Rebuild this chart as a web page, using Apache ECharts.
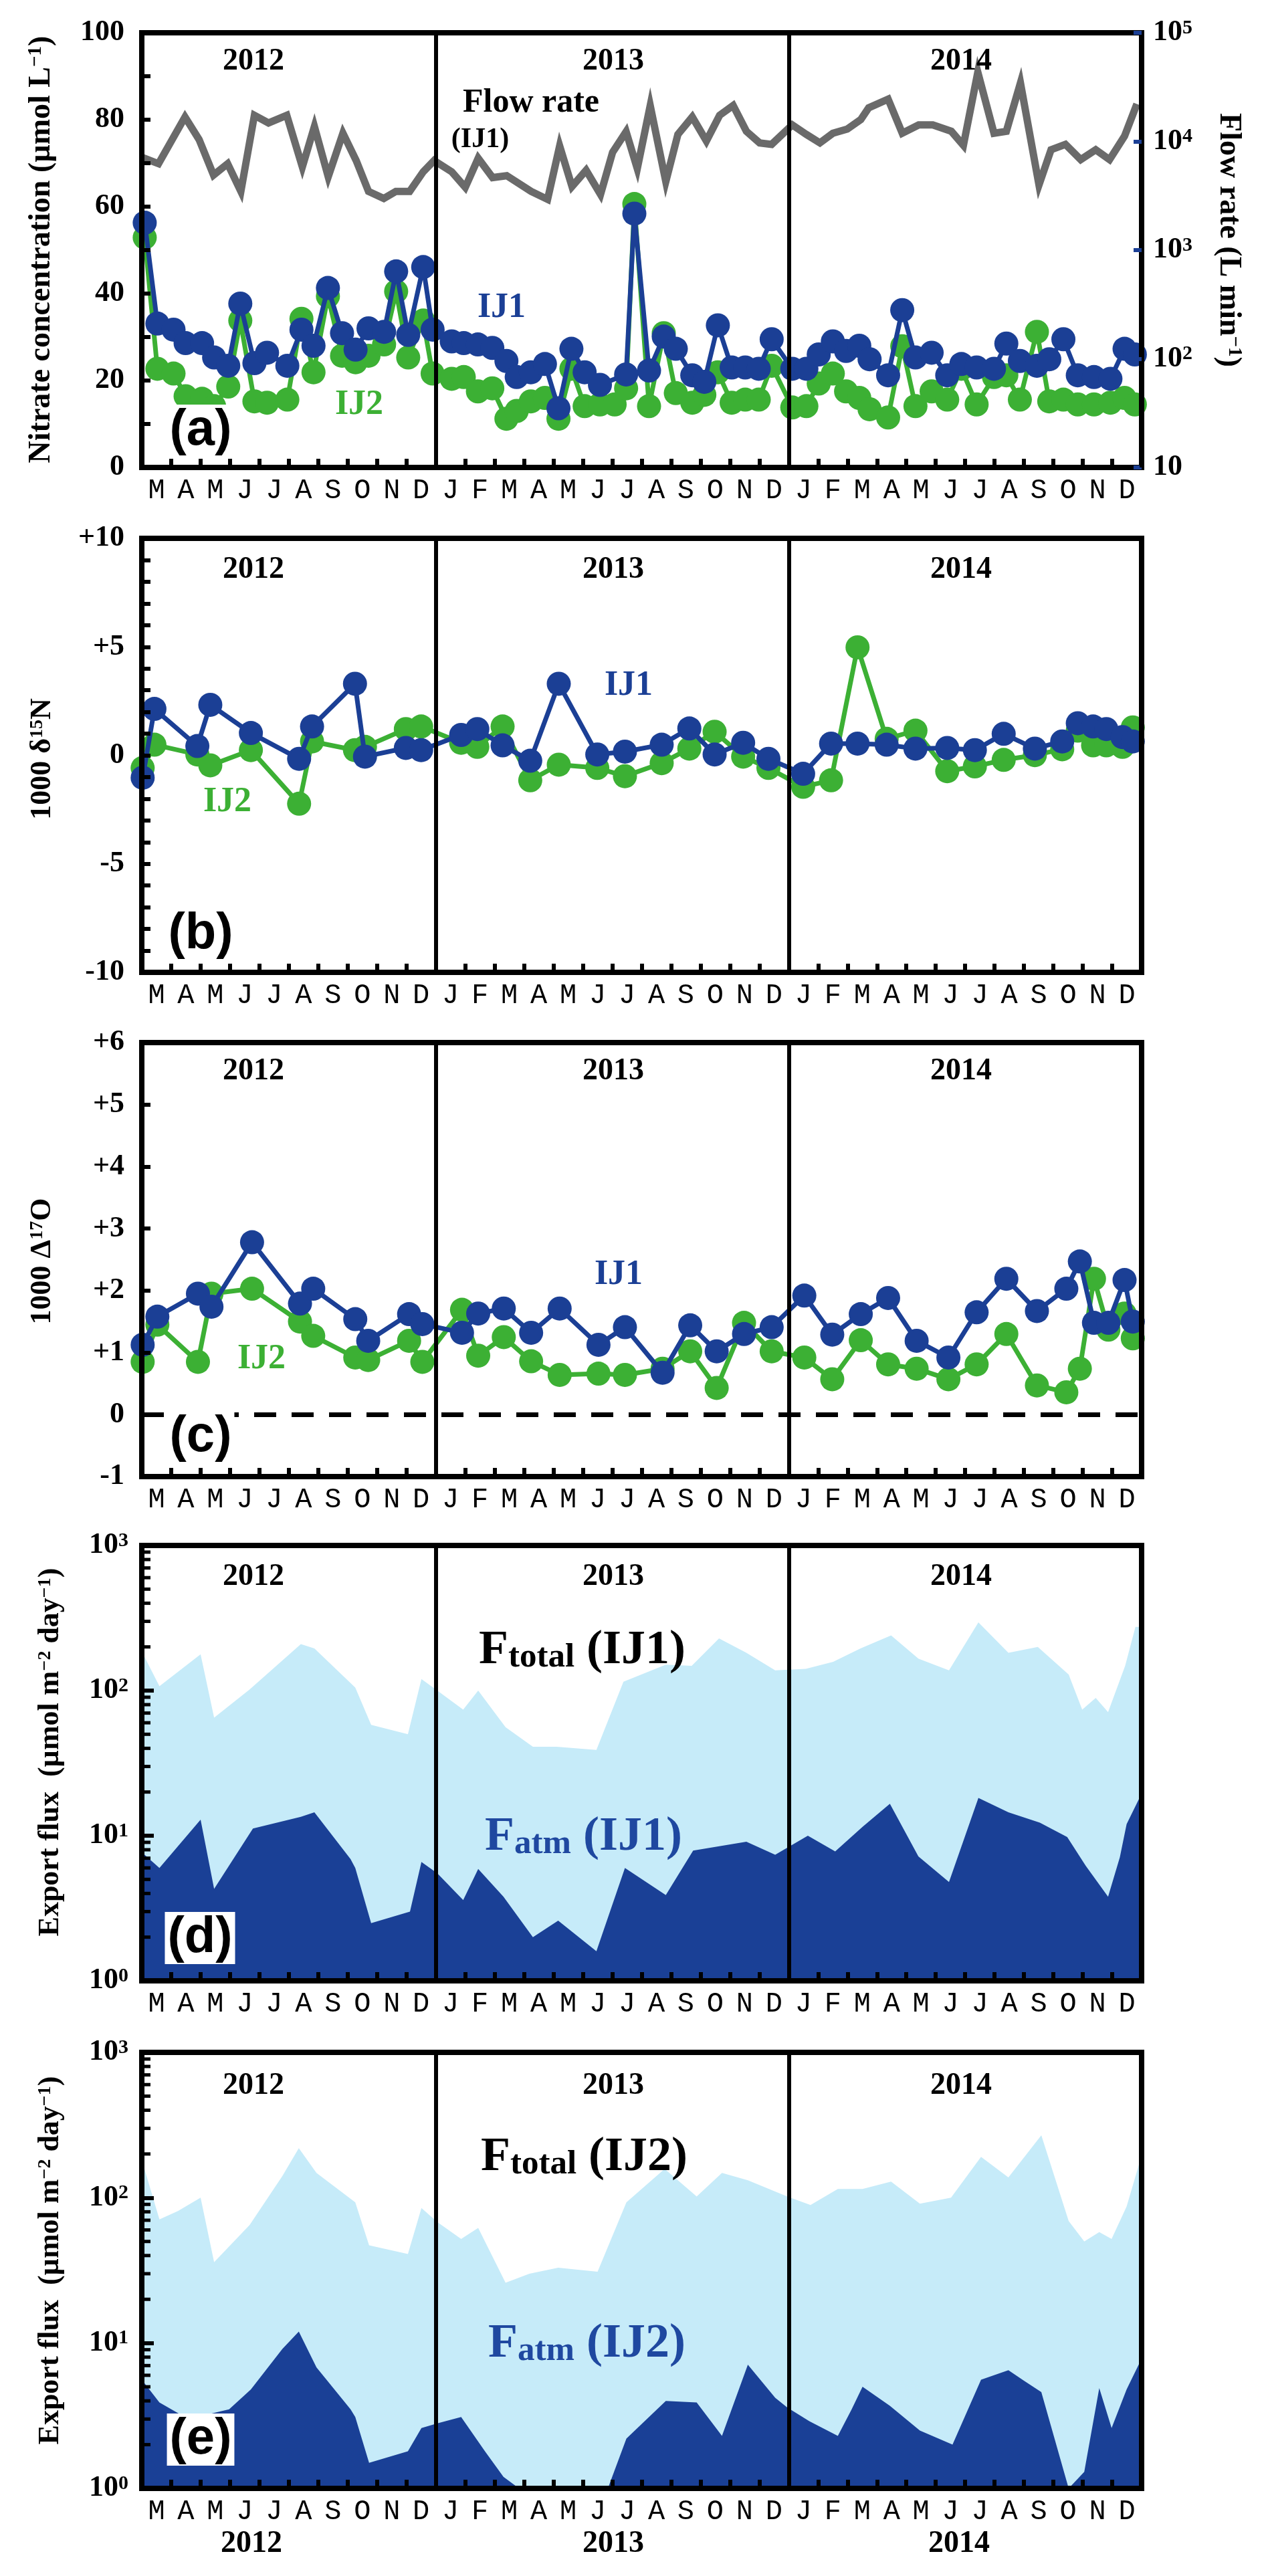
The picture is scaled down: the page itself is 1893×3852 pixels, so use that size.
<!DOCTYPE html>
<html><head><meta charset="utf-8">
<script src="https://cdn.jsdelivr.net/npm/echarts@6/dist/echarts.min.js"></script>
<style>html,body{margin:0;padding:0;background:#fff}#c{width:1893px;height:3852px}</style>
</head><body><div id="c"></div>
<script>
// ---------- DATA (x = months since 1 Jan 2012) ----------
const monthLabels = ['M','A','M','J','J','A','S','O','N','D',
  'J','F','M','A','M','J','J','A','S','O','N','D',
  'J','F','M','A','M','J','J','A','S','O','N','D'];
const yearLabels = ['2012','2013','2014'];

const nitrateDates = [2.1,2.53,3.08,3.49,4.05,4.46,4.94,5.35,5.83,6.26, 6.95,7.43,7.84,8.33,8.81,9.27,9.71,10.24,10.65,11.06, 11.57,11.89,12.54,12.95,13.43,13.92,14.4,14.75,15.23,15.71, 16.17,16.61,17.06,17.58,18.08,18.47,18.75,19.25,19.75,20.16, 20.72,21.13,21.59,22.06,22.52,22.98,23.42,24.12,24.6,25.02, 25.5,25.95,26.4,26.75,27.38,27.86,28.31,28.86,29.39,29.87, 30.39,30.98,31.4,31.86,32.44,32.86,33.34,33.83,34.38,34.94, 35.42,35.77];
const nitrateIJ1 = [56.3,33.1,31.7,28.6,28.6,25.3,23.4,37.7,24.0,26.4, 23.4,31.7,28.0,41.3,30.9,27.1,32.0,31.2,45.1,30.5, 46.1,31.7,29.0,28.6,28.3,27.5,24.5,20.8,21.9,23.8, 13.6,27.3,21.9,19.0,null,21.4,58.4,22.3,30.1,27.3, 21.2,19.7,32.7,23.0,23.0,22.7,29.5,22.7,22.7,26.0, 29.0,26.8,28.0,24.9,21.2,36.2,25.3,26.4,21.2,23.8, 23.0,22.7,28.5,24.5,23.4,24.9,29.5,21.2,20.8,20.4, 27.3,26.0];
const nitrateIJ2 = [52.9,22.7,21.6,16.4,15.8,14.1,18.6,33.8,15.2,14.9, 15.6,34.2,21.9,39.4,25.7,24.2,25.7,28.3,40.5,25.3, 33.8,21.6,20.4,20.8,17.5,18.2,11.2,13.0,15.2,16.0, 11.2,22.7,14.1,14.5,14.5,18.2,60.6,14.1,30.9,17.1, 14.9,16.7,21.9,14.9,15.6,15.6,23.4,13.8,14.1,19.3, 21.6,17.5,16.0,13.4,11.5,27.9,14.1,17.5,15.6,22.7, 14.5,20.8,21.2,15.6,31.2,15.2,15.6,14.5,14.5,14.9, 16.0,14.5];

const flowDates = [2.0,2.57,3.47,3.95,4.44,4.92,5.37,5.83,6.31,6.93, 7.46,7.87,8.34,8.84,9.29,9.71,10.23,10.64,11.11,11.57, 11.94,12.54,13.0,13.44,13.93,14.41,15.24,15.8,16.21,16.63, 17.11,17.6,18.01,18.47,18.85,19.29,19.82,20.23,20.72,21.2, 21.65,22.11,22.56,23.01,23.42,24.12,24.6,25.06,25.5,25.99, 26.45,26.72,27.38,27.86,28.42,28.9,29.53,29.94,30.43,30.98, 31.4,31.88,32.51,32.92,33.41,33.93,34.44,34.91,35.42,35.84];
const flowIJ1 = [7150,6240,16800,10400,4900,6240,3470,17400,14800,17400, 5820,13700,4740,11900,6670,3470,2990,3470,3470,5250, 6670,5250,3780,7000,4650,4840,3470,2930,9080,3850, 5430,3250,7940,12300,5620,21400,4270,11600,16800,10100, 17400,21400,12400,9700,9400,14200,11600,9700,11900,13000, 15900,20400,24500,11900,14200,14200,12400,9200,43400,11900, 12400,34600,3980,8380,9400,6810,8380,6810,11200,22100];

const d15NDates = [2.03,2.43,3.89,4.33,5.71,7.35,7.79,9.25,9.59,10.98, 11.5,12.86,13.41,14.27,15.21,16.18,17.49,18.43,19.68,20.62, 21.48,22.45,23.31,24.49,25.44,26.34,27.33,28.31,29.39,30.33, 31.31,32.37,33.3,33.83,34.35,34.8,35.35,35.7];
const d15NIJ1 = [-1.03,2.14,0.43,2.33,1.03,-0.16,1.33,3.3,-0.06,0.34, 0.24,0.94,1.21,0.46,-0.25,3.3,0.04,0.17,0.49,1.24, 0.04,0.58,-0.16,-0.85,0.54,0.54,0.49,0.31,0.34,0.24, 0.99,0.31,0.64,1.48,1.33,1.21,0.84,0.64];
const d15NIJ2 = [-0.58,0.49,0.04,-0.46,0.24,-2.23,0.64,0.24,0.39,1.21, 1.33,0.58,0.39,1.33,-1.15,-0.43,-0.58,-0.96,-0.36,0.31, 1.09,-0.06,-0.58,-1.45,-1.15,4.98,0.76,1.14,-0.73,-0.51, -0.21,0.01,0.28,1.14,0.46,0.46,0.39,1.29];

const D17ODates = [2.03,2.53,3.91,4.37,5.75,7.38,7.83,9.26,9.7,11.09, 11.54,12.89,13.44,14.31,15.24,16.21,17.53,18.43,19.71,20.65, 21.55,22.48,23.42,24.53,25.48,26.45,27.38,28.35,29.43,30.39, 31.4,32.44,33.44,33.9,34.38,34.87,35.42,35.7];
const D17OIJ1 = [1.125,1.58,1.95,1.74,2.78,1.79,2.03,1.54,1.19,1.62, 1.46,1.32,1.63,1.71,1.32,1.71,1.125,1.41,0.675,1.44, 1.02,1.30,1.41,1.92,1.29,1.62,1.88,1.19,0.92,1.65, 2.19,1.67,2.03,2.47,1.48,1.48,2.17,1.50];
const D17OIJ2 = [0.85,1.45,0.85,1.95,2.03,1.50,1.27,0.92,0.88,1.19, 0.85,1.69,0.95,1.25,0.86,0.64,0.66,0.64,0.74,1.02, 0.43,1.48,1.02,0.92,0.57,1.20,0.81,0.74,0.57,0.81, 1.30,0.47,0.36,0.74,2.19,1.37,1.63,1.23];

const fluxIJ1TotalDates = [2.0,2.6,4.0,4.46,5.67,7.41,7.87,9.26,9.8,11.05, 11.51,12.05,12.93,13.44,14.37,15.3,16.11,17.46,18.38,19.82, 20.7,21.63,22.56,23.54,24.58,25.51,26.44,27.48,28.41,29.45, 30.45,31.47,32.47,33.52,33.98,34.44,34.86,35.44,35.79,36.0];
const fluxIJ1Total = [186,107,178,65,102,209,195,105,58,50, 120,100,74,100,56,41,41,39,115,151, 148,229,182,138,141,158,195,240,166,138, 295,182,200,129,74,89,71,148,275,275];
const fluxIJ1AtmDates = [2.0,2.6,4.0,4.46,5.78,7.41,7.87,9.1,9.26,9.8, 11.12,11.51,12.05,12.93,13.44,14.3,15.3,16.16,17.46,18.43, 19.82,20.75,22.56,23.54,24.65,25.58,26.51,27.44,28.41,29.45, 30.45,31.47,32.54,33.47,34.1,34.86,35.26,35.49,35.95];
const fluxIJ1Atm = [7.7,6.0,12.9,4.3,11.2,13.5,14.5,6.9,6.0,2.5, 3.0,6.6,5.5,3.6,5.9,3.8,2.0,2.6,1.6,6.0, 3.9,7.9,9.1,7.4,10,7.8,11.5,16.6,7.2,4.8, 18.2,14.5,12.3,9.8,6.2,3.8,7.1,12.0,18.6];

const fluxIJ2TotalDates = [2.0,2.6,3.23,4.0,4.46,5.67,6.78,7.34,7.94,9.26, 9.73,11.05,11.51,12.05,12.86,13.44,14.37,15.18,16.16,17.5, 18.48,19.78,20.87,21.73,22.61,23.95,24.74,25.67,26.51,27.48, 28.46,29.52,30.54,31.47,32.59,33.52,34.05,34.56,34.98,35.49, 36.0];
const fluxIJ2Total = [182,71,81,100,36,65,141,219,148,93, 47,41,85,68,52,62,26,30,33,31, 93,158,102,148,132,102,89,115,115,129, 91,100,191,138,269,69,50,58,52,87, 195];
const fluxIJ2AtmDates = [2.0,2.6,3.58,4.97,5.71,6.78,7.34,7.94,9.1,9.26, 9.73,11.05,11.51,12.05,12.86,13.67,14.3,14.83,17.85,18.48, 19.82,20.87,21.73,22.61,23.54,23.95,24.7,25.67,26.14,26.51, 27.44,28.46,29.57,30.54,31.47,32.0,32.59,33.52,34.05,34.56, 34.98,35.49,36.0];
const fluxIJ2Atm = [5.6,3.9,3.0,3.5,4.8,9.1,12.0,6.8,3.5,3.1, 1.5,1.8,2.6,2.8,3.1,1.8,1.2,1.0,1.0,2.2, 4.0,3.9,2.3,7.1,4.2,3.6,2.9,2.3,3.5,5.0, 3.7,2.5,2.0,5.6,6.5,5.5,4.6,1.0,1.3,4.9, 2.6,4.8,7.8];

// ---------- STYLE ----------
const BLUE = '#1b3f95', GREEN = '#3cb034', GREY = '#6a6a6a', LIGHT = '#c6ebf9', DARK = '#1a4096';
const SERIF = '"Liberation Serif","Times New Roman",serif';
const SANS = '"Liberation Sans",Arial,sans-serif';
const MONO = '"Liberation Mono","Courier New",monospace';
const L = 212, R = 186;
const tops = [49, 805, 1559, 2311, 3069];
const heights = [650, 649, 649, 651, 652];
const BW = 8;

const zip = (xs, ys) => xs.map((x, i) => [x, ys[i]]);

const grids = tops.map((t, i) => ({left: L, right: R, top: t, height: heights[i], show: true, borderColor: '#000', borderWidth: BW, backgroundColor: 'transparent'}));

const xAxes = [];
tops.forEach((t, g) => {
  xAxes.push({gridIndex: g, type: 'value', min: 2, max: 36, show: false});
  xAxes.push({gridIndex: g, type: 'category', position: 'bottom', data: monthLabels, boundaryGap: true, z: 5,
    axisLine: {show: true, lineStyle: {color: '#000', width: BW}},
    axisTick: {show: true, inside: true, length: 13, interval: 0, lineStyle: {color: '#000', width: 6}},
    axisLabel: {show: true, interval: 0, margin: 14, fontFamily: MONO, fontSize: 42, color: '#000'},
    splitLine: {show: false}});
  xAxes.push({gridIndex: g, type: 'value', position: 'top', min: 2, max: 36, z: 5,
    axisLine: {show: true, onZero: false, lineStyle: {color: '#000', width: BW}},
    axisTick: {show: false}, axisLabel: {show: false}, splitLine: {show: false}});
});

const labelBase = {fontFamily: SERIF, fontWeight: 'bold', fontSize: 44, color: '#000', margin: 26};
const tickBase = {show: true, inside: true, length: 13, lineStyle: {color: '#000', width: 6}};
const lineBase = {show: true, onZero: false, lineStyle: {color: '#000', width: BW}};
const powRich = {
  b: {fontFamily: SERIF, fontWeight: 'bold', fontSize: 44, color: '#000', lineHeight: 44},
  s: {fontFamily: SERIF, fontWeight: 'bold', fontSize: 30, color: '#000', lineHeight: 30, verticalAlign: 'top'}
};
const signed = v => (v > 0 ? '+' + v : '' + v);

const yAxes = [
  // a
  {gridIndex: 0, type: 'value', min: 0, max: 100, interval: 10, z: 5, axisLine: lineBase, axisTick: tickBase, splitLine: {show: false},
    axisLabel: Object.assign({}, labelBase, {formatter: v => (v % 20 === 0 ? String(v) : '')})},
  {gridIndex: 0, type: 'log', logBase: 10, min: 10, max: 100000, position: 'right', z: 5, axisLine: lineBase,
    axisTick: {show: true, inside: true, length: 12, lineStyle: {color: BLUE, width: 6}}, splitLine: {show: false}, minorTick: {show: false},
    axisLabel: {margin: 17, formatter: v => { const e = Math.round(Math.log10(v)); return e === 1 ? '{b|10}' : '{b|10}{s|' + e + '}'; }, rich: powRich}},
  // b
  {gridIndex: 1, type: 'value', min: -10, max: 10, interval: 1, z: 5, axisLine: lineBase, axisTick: tickBase, splitLine: {show: false},
    axisLabel: Object.assign({}, labelBase, {formatter: v => (v % 5 === 0 ? signed(v) : '')})},
  {gridIndex: 1, type: 'value', min: 0, max: 1, position: 'right', z: 5, axisLine: lineBase, axisTick: {show: false}, axisLabel: {show: false}, splitLine: {show: false}},
  // c
  {gridIndex: 2, type: 'value', min: -1, max: 6, interval: 1, z: 5, axisLine: lineBase, axisTick: tickBase, splitLine: {show: false},
    axisLabel: Object.assign({}, labelBase, {formatter: v => signed(v)})},
  {gridIndex: 2, type: 'value', min: 0, max: 1, position: 'right', z: 5, axisLine: lineBase, axisTick: {show: false}, axisLabel: {show: false}, splitLine: {show: false}},
];
[3, 4].forEach(g => {
  yAxes.push({gridIndex: g, type: 'log', logBase: 10, min: 1, max: 1000, z: 5, axisLine: lineBase,
    axisTick: {show: true, inside: true, length: 18, lineStyle: {color: '#000', width: 6}}, splitLine: {show: false}, minorTick: {show: false},
    axisLabel: {margin: 20, formatter: v => '{b|10}{s|' + Math.round(Math.log10(v)) + '}', rich: powRich}});
  yAxes.push({gridIndex: g, type: 'value', min: 0, max: 1, position: 'right', z: 5, axisLine: lineBase, axisTick: {show: false}, axisLabel: {show: false}, splitLine: {show: false}});
});

const dividers = {silent: true, symbol: ['none', 'none'], label: {show: false}, emphasis: {disabled: true},
  lineStyle: {color: '#000', width: 6, type: 'solid'}, data: [{xAxis: 12}, {xAxis: 24}]};

const dotLine = (name, g, yIdx, data, color, z) => ({
  name, type: 'line', xAxisIndex: 3 * g, yAxisIndex: yIdx, data, connectNulls: true,
  symbol: 'circle', symbolSize: 36, showSymbol: true, z,
  lineStyle: {color, width: 7}, itemStyle: {color, borderWidth: 0}, emphasis: {disabled: true}
});
const area = (name, g, data, color, z) => ({
  name, type: 'line', xAxisIndex: 3 * g, yAxisIndex: 2 * g, data, symbol: 'none', showSymbol: false, z,
  lineStyle: {width: 0, color}, areaStyle: {color, opacity: 1, origin: 'start'}, emphasis: {disabled: true}
});

const series = [
  {name: 'Flow rate (IJ1)', type: 'line', xAxisIndex: 0, yAxisIndex: 1, data: zip(flowDates, flowIJ1), symbol: 'none', z: 2,
    lineStyle: {color: GREY, width: 11, join: 'miter'}, emphasis: {disabled: true}},
  dotLine('IJ2 nitrate', 0, 0, zip(nitrateDates, nitrateIJ2), GREEN, 3),
  Object.assign(dotLine('IJ1 nitrate', 0, 0, zip(nitrateDates, nitrateIJ1), BLUE, 4), {markLine: dividers}),
  dotLine('IJ2 d15N', 1, 2, zip(d15NDates, d15NIJ2), GREEN, 3),
  Object.assign(dotLine('IJ1 d15N', 1, 2, zip(d15NDates, d15NIJ1), BLUE, 4), {markLine: dividers}),
  Object.assign(dotLine('IJ2 D17O', 2, 4, zip(D17ODates, D17OIJ2), GREEN, 3), {markLine: {silent: true, symbol: ['none', 'none'], label: {show: false},
    emphasis: {disabled: true}, lineStyle: {color: '#000', width: 7, type: [33, 23]}, data: [{yAxis: 0}]}}),
  Object.assign(dotLine('IJ1 D17O', 2, 4, zip(D17ODates, D17OIJ1), BLUE, 4), {markLine: dividers}),
  area('Ftotal IJ1', 3, zip(fluxIJ1TotalDates, fluxIJ1Total), LIGHT, 2),
  Object.assign(area('Fatm IJ1', 3, zip(fluxIJ1AtmDates, fluxIJ1Atm), DARK, 3), {markLine: dividers}),
  area('Ftotal IJ2', 4, zip(fluxIJ2TotalDates, fluxIJ2Total), LIGHT, 2),
  Object.assign(area('Fatm IJ2', 4, zip(fluxIJ2AtmDates, fluxIJ2Atm), DARK, 3), {markLine: dividers}),
];

// ---------- TEXT ANNOTATIONS ----------
const txt = (x, y, text, o) => ({type: 'text', x, y, z: 100, silent: true, rotation: (o && o.rot) || 0,
  style: Object.assign({text, align: 'center', verticalAlign: 'middle', fill: '#000', fontFamily: SERIF, fontWeight: 'bold', fontSize: 46}, (o && o.style) || {})});
const titleRich = fs => ({
  t: {fontFamily: SERIF, fontWeight: 'bold', fontSize: fs, fill: '#000', lineHeight: fs},
  s: {fontFamily: SERIF, fontWeight: 'bold', fontSize: Math.round(fs * 0.64), fill: '#000', lineHeight: Math.round(fs * 0.64), verticalAlign: 'top'}
});
const graphics = [];
const yearX = [379, 917, 1437];
const yearY = [92, 852, 1602, 2358, 3119];
yearY.forEach(y => yearLabels.forEach((lab, i) => graphics.push(txt(yearX[i], y, lab))));
[376, 917, 1434].forEach((x, i) => graphics.push(txt(x, 3804, yearLabels[i])));

const letter = (x, y, s) => txt(x, y, s, {style: {fontFamily: SANS, fontSize: 76, backgroundColor: '#fff', padding: [2, 4, 0, 4]}});
graphics.push(letter(300, 644, '(a)'), letter(300, 1397, '(b)'), letter(300, 2149, '(c)'), letter(299, 2898, '(d)'), letter(300, 3648, '(e)'));

const lab = (x, y, s, c) => txt(x, y, s, {style: {fill: c, fontSize: 52}});
graphics.push(lab(750, 461, 'IJ1', BLUE), lab(537, 606, 'IJ2', GREEN),
  lab(940, 1026, 'IJ1', BLUE), lab(340, 1200, 'IJ2', GREEN),
  lab(925, 1907, 'IJ1', BLUE), lab(391, 2033, 'IJ2', GREEN));
graphics.push(txt(794, 154, 'Flow rate', {style: {fontSize: 50}}), txt(718, 209, '(IJ1)', {style: {fontSize: 42}}));

const fRich = c => ({
  F: {fontFamily: SERIF, fontWeight: 'bold', fontSize: 72, fill: c, lineHeight: 72, verticalAlign: 'bottom'},
  m: {fontFamily: SERIF, fontWeight: 'bold', fontSize: 51, fill: c, lineHeight: 59, verticalAlign: 'bottom'}
});
const fLab = (x, yb, sub, site, c) => ({type: 'text', x, y: yb, z: 100, silent: true,
  style: {text: '{F|F}{m|' + sub + '}{F| (' + site + ')}', rich: fRich(c), align: 'left', verticalAlign: 'bottom', fill: c}});
graphics.push(fLab(716, 2504, 'total', 'IJ1', '#000'), fLab(725, 2783, 'atm', 'IJ1', '#1f48a0'),
  fLab(719, 3262, 'total', 'IJ2', '#000'), fLab(730, 3541, 'atm', 'IJ2', '#1f48a0'));

const rtitle = (x, y, text, rot, fs) => ({type: 'text', x, y, z: 100, silent: true, rotation: rot,
  style: {text, rich: titleRich(fs), align: 'center', verticalAlign: 'middle', fill: '#000'}});
graphics.push(rtitle(62, 373, '{t|Nitrate concentration (µmol L}{s|−1}{t|)}', Math.PI / 2, 46));
graphics.push(rtitle(1837, 359, '{t|Flow rate (L min}{s|−1}{t|)}', -Math.PI / 2, 46));
graphics.push(rtitle(64, 1135, '{t|1000 δ}{s|15}{t|N}', Math.PI / 2, 44));
graphics.push(rtitle(64, 1886, '{t|1000 Δ}{s|17}{t|O}', Math.PI / 2, 44));
graphics.push(rtitle(76, 2620, '{t|Export flux  (µmol m}{s|−2}{t| day}{s|−1}{t|)}', Math.PI / 2, 44));
graphics.push(rtitle(76, 3380, '{t|Export flux  (µmol m}{s|−2}{t| day}{s|−1}{t|)}', Math.PI / 2, 44));

const chart = echarts.init(document.getElementById('c'), null, {renderer: 'canvas'});
chart.setOption({animation: false, backgroundColor: '#fff', grid: grids, xAxis: xAxes, yAxis: yAxes, series, graphic: graphics});

// log minor ticks (2..9) on the flux axes
const extra = [];
[3, 4].forEach(g => {
  for (let d = 0; d < 3; d++) for (let k = 2; k <= 9; k++) {
    const py = chart.convertToPixel({yAxisIndex: 2 * g}, k * Math.pow(10, d));
    extra.push({type: 'line', z: 100, silent: true, shape: {x1: L, y1: py, x2: L + 13, y2: py}, style: {stroke: '#000', lineWidth: 5}});
  }
});
chart.setOption({graphic: graphics.concat(extra)});
</script></body></html>
